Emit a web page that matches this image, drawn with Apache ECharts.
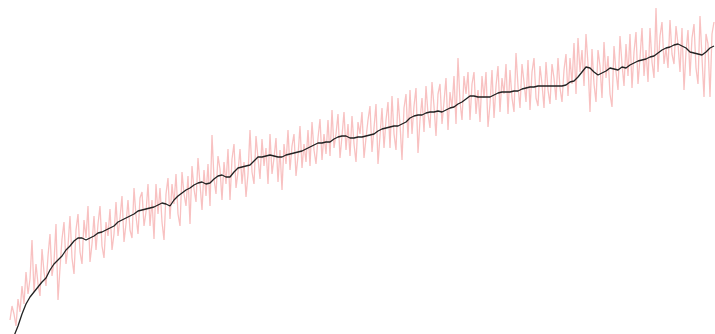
<!DOCTYPE html>
<html>
<head>
<meta charset="utf-8">
<script src="https://cdn.jsdelivr.net/npm/echarts@6/dist/echarts.min.js"></script>
<style>
  html, body { margin: 0; padding: 0; background: #fff; }
  #chart { width: 715px; height: 334px; }
</style>
</head>
<body>
<div id="chart"></div>
<script>
// raw noisy series (pink)
const rawValues = [
  14, 28, 20, 8, 35, 22, 48, 30, 62, 40,
  55, 94, 42, 70, 50, 38, 85, 62, 48, 78,
  100, 58, 72, 110, 34, 66, 95, 112, 70, 88,
  118, 76, 60, 104, 120, 82, 70, 114, 96, 128,
  72, 90, 118, 84, 110, 128, 88, 76, 112, 98,
  125, 84, 100, 132, 98, 116, 138, 92, 110, 134,
  104, 96, 146, 118, 100, 136, 142, 108, 122, 150,
  108, 134, 95, 150, 120, 146, 112, 94, 140, 156,
  115, 150, 130, 160, 120, 108, 162, 140, 128, 158,
  110, 168, 145, 132, 176, 150, 124, 164, 138, 170,
  128, 199, 155, 140, 178, 165, 134, 172, 150, 185,
  134, 175, 190, 146, 162, 185, 150, 172, 137, 160,
  204, 162, 150, 198, 176, 155, 195, 168, 186, 150,
  200, 160, 176, 196, 152, 184, 144, 190, 170, 204,
  164, 188, 200, 158, 178, 208, 166, 190, 172, 204,
  168, 212, 184, 170, 196, 215, 174, 200, 180, 214,
  178, 224, 186, 200, 220, 176, 198, 222, 184, 210,
  178, 218, 190, 172, 212, 200, 222, 176, 196, 214,
  228, 182, 206, 230, 170, 198, 226, 186, 214, 232,
  186, 238, 200, 184, 236, 210, 174, 226, 240, 196,
  244, 200, 228, 246, 181, 214, 236, 202, 248, 220,
  206, 252, 228, 198, 240, 250, 210, 232, 256, 204,
  242, 226, 258, 210, 276, 232, 214, 258, 240, 262,
  214, 250, 262, 220, 244, 212, 258, 236, 262, 207,
  230, 264, 216, 248, 268, 222, 256, 240, 270, 220,
  264, 236, 222, 281, 248, 226, 270, 252, 232, 274,
  224, 262, 276, 236, 228, 268, 250, 226, 272, 244,
  230, 270, 256, 234, 276, 246, 232, 264, 280, 238,
  276, 250, 291, 240, 296, 262, 284, 248, 300, 270,
  222, 285, 250, 232, 284, 268, 236, 292, 256, 278,
  240, 227, 288, 262, 244, 298, 270, 248, 290, 258,
  300, 246, 282, 302, 250, 276, 306, 258, 284, 252,
  306, 272, 256, 326, 262, 298, 312, 270, 286, 266,
  314, 280, 270, 308, 290, 262, 306, 244, 282, 304,
  258, 296, 310, 266, 250, 318, 276, 237, 300, 290,
  237, 300, 312
];

// smoothed series (black)
const smoothValues = [
  -2, 8, 20, 30, 37, 42, 47, 52, 56, 64,
  70, 74, 78, 84, 88, 93, 96, 96, 94, 96,
  98, 101, 102, 104, 106, 108, 112, 114, 116, 118,
  120, 123, 124, 125, 126, 127, 129, 131, 130, 128,
  134, 138, 141, 144, 146, 149, 151, 152, 150, 151,
  155, 158, 159, 157, 157, 162, 166, 167, 168, 169,
  173, 177, 177, 178, 179, 178, 177, 177, 179, 180,
  181, 182, 183, 185, 187, 189, 191, 191, 192, 192,
  195, 197, 198, 198, 196, 196, 197, 197, 198, 199,
  200, 203, 205, 206, 207, 208, 208, 210, 212, 216,
  218, 219, 219, 221, 222, 222, 223, 222, 224, 226,
  227, 230, 232, 235, 238, 238, 237, 237, 237, 237,
  239, 241, 242, 242, 242, 243, 243, 245, 246, 247,
  247, 248, 248, 248, 248, 248, 248, 248, 249, 252,
  253, 257, 262, 267, 266, 262, 259, 261, 263, 266,
  265, 264, 267, 266, 269, 271, 273, 274, 275, 277,
  278, 281, 284, 286, 287, 289, 290, 288, 286, 282,
  281, 280, 279, 282, 286, 288
];

const rawIndex = rawValues.map((_, i) => i);
const smoothIndex = smoothValues.map((_, i) => i);

const myChart = echarts.init(document.getElementById('chart'));
myChart.setOption({
  animation: false,
  grid: [
    { left: 10, right: 1, top: 0, bottom: 0 },
    { left: 14, right: 1, top: 0, bottom: 0 },
  ],
  xAxis: [
    { type: 'category', gridIndex: 0, data: rawIndex, boundaryGap: false, show: false },
    { type: 'category', gridIndex: 1, data: smoothIndex, boundaryGap: false, show: false },
  ],
  yAxis: [
    { type: 'value', gridIndex: 0, min: 0, max: 334, show: false },
    { type: 'value', gridIndex: 1, min: 0, max: 334, show: false },
  ],
  series: [
    {
      name: 'raw',
      type: 'line',
      xAxisIndex: 0,
      yAxisIndex: 0,
      data: rawValues,
      symbol: 'none',
      lineStyle: { color: '#f4a0a0', width: 1.3, opacity: 0.65 },
      z: 1,
    },
    {
      name: 'smooth',
      type: 'line',
      xAxisIndex: 1,
      yAxisIndex: 1,
      data: smoothValues,
      symbol: 'none',
      lineStyle: { color: '#222', width: 1.3 },
      z: 2,
    },
  ],
});
</script>
</body>
</html>
